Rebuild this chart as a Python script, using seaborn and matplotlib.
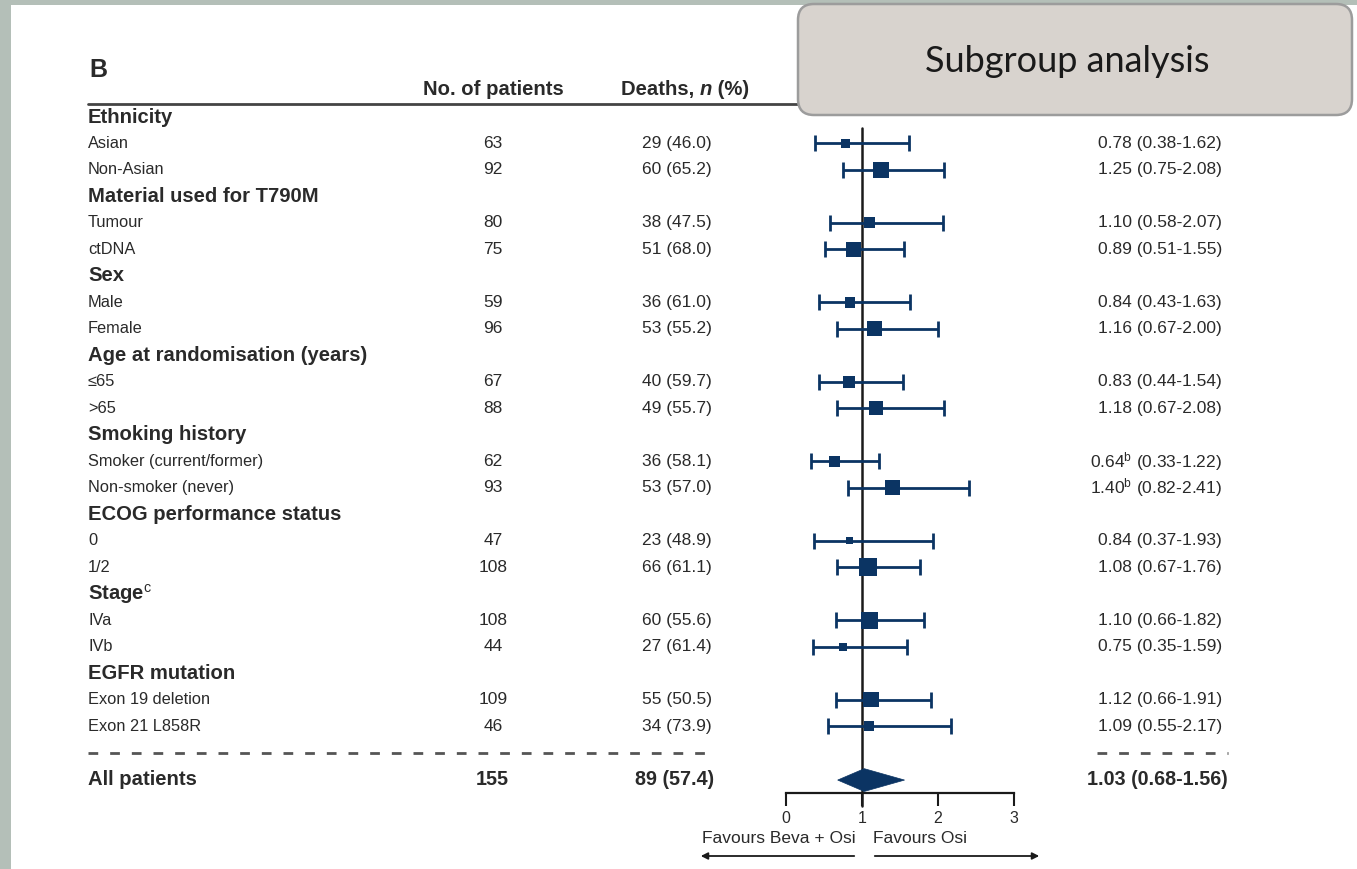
import numpy as np
import pandas as pd
import matplotlib
matplotlib.use("Agg")
import matplotlib.pyplot as plt
import seaborn as sns
from matplotlib.patches import FancyBboxPatch, Rectangle, Polygon
from matplotlib import font_manager

# ---------------- data ----------------
groups = ["Ethnicity", "Material used for T790M", "Sex", "Age at randomisation (years)",
          "Smoking history", "ECOG performance status", "Stage", "EGFR mutation"]
group_sup = ["", "", "", "", "", "", "c", ""]
subgroups = [["Asian", "Non-Asian"], ["Tumour", "ctDNA"], ["Male", "Female"],
             ["≤65", ">65"], ["Smoker (current/former)", "Non-smoker (never)"],
             ["0", "1/2"], ["IVa", "IVb"], ["Exon 19 deletion", "Exon 21 L858R"]]
n_patients = [63, 92, 80, 75, 59, 96, 67, 88, 62, 93, 47, 108, 108, 44, 109, 46]
deaths = [29, 60, 38, 51, 36, 53, 40, 49, 36, 53, 23, 66, 60, 27, 55, 34]
death_pct = [46.0, 65.2, 47.5, 68.0, 61.0, 55.2, 59.7, 55.7, 58.1, 57.0, 48.9, 61.1, 55.6, 61.4, 50.5, 73.9]
hr = [0.78, 1.25, 1.10, 0.89, 0.84, 1.16, 0.83, 1.18, 0.64, 1.40, 0.84, 1.08, 1.10, 0.75, 1.12, 1.09]
ci_low = [0.38, 0.75, 0.58, 0.51, 0.43, 0.67, 0.44, 0.67, 0.33, 0.82, 0.37, 0.67, 0.66, 0.35, 0.66, 0.55]
ci_high = [1.62, 2.08, 2.07, 1.55, 1.63, 2.00, 1.54, 2.08, 1.22, 2.41, 1.93, 1.76, 1.82, 1.59, 1.91, 2.17]
hr_note = ["", "", "", "", "", "", "", "", "b", "b", "", "", "", "", "", ""]
overall_label = "All patients"
overall_n = 155
overall_deaths = 89
overall_pct = 57.4
overall_hr = 1.03
overall_lo = 0.68
overall_hi = 1.56
x_ticks = [0, 1, 2, 3]
col_headers = ["No. of patients", "Deaths, ", "n", " (%)"]
panel_label = "B"
box_title = "Subgroup analysis"
favour_left = "Favours Beva + Osi"
favour_right = "Favours Osi"

# ---------------- style ----------------
sns.set_theme(style="white")
avail = {f.name for f in font_manager.fontManager.ttflist}
base = "Liberation Sans Narrow" if "Liberation Sans Narrow" in avail else "Liberation Sans"
plt.rcParams["font.family"] = [base, "DejaVu Sans"]
plt.rcParams["mathtext.fontset"] = "custom"
plt.rcParams["mathtext.rm"] = base
plt.rcParams["mathtext.it"] = base + ":italic"
plt.rcParams["mathtext.bf"] = base + ":bold"

TXT = "#2a2a2a"
NAVY = "#0b3463"
FS_LAB = 11.8     # subgroup labels
FS_NUM = 12.5     # numbers
FS_BOLD = 14.6    # bold group headers / column headers
FS_BNUM = 14.2    # bold overall numbers
W, H = 1357, 869
X0, XU = 786.0, 76.0          # pixel of HR=0, pixels per HR unit
Y0, YU = 117.0, 26.48         # pixel of row 0, pixels per row
ylim = ((H - Y0) / YU, -Y0 / YU)

def prow(py):
    return (py - Y0) / YU

fig = plt.figure(figsize=(W / 100, H / 100), dpi=100)
fig.patch.set_facecolor("#b4bfb8")

# background panel (pixel coords)
ax_bg = fig.add_axes([0, 0, 1, 1], zorder=0)
ax_bg.set_xlim(0, W); ax_bg.set_ylim(H, 0); ax_bg.axis("off")
ax_bg.add_patch(Rectangle((11, 5), W - 11, H - 5, facecolor="white", edgecolor="none"))

# text layer (x pixels, y rows)
ax_t = fig.add_axes([0, 0, 1, 1], zorder=1)
ax_t.set_xlim(0, W); ax_t.set_ylim(*ylim); ax_t.axis("off"); ax_t.patch.set_alpha(0)

# forest layer
ax_f = fig.add_axes([X0 / W, 0, 3 * XU / W, 1], zorder=2)
ax_f.patch.set_alpha(0)
ax_f.set_xlim(0, 3); ax_f.set_ylim(*ylim)

# ---------------- build rows ----------------
recs = []
r = 0
k = 0
for g, sup, subs in zip(groups, group_sup, subgroups):
    lab = g + (r"$^{\mathrm{%s}}$" % sup if sup else "")
    ax_t.text(88, r, lab, ha="left", va="center", fontsize=FS_BOLD, fontweight="bold", color=TXT)
    r += 1
    for s in subs:
        recs.append(dict(row=r, label=s, n=n_patients[k], d=deaths[k], pct=death_pct[k],
                         hr=hr[k], lo=ci_low[k], hi=ci_high[k], note=hr_note[k]))
        r += 1
        k += 1
df = pd.DataFrame(recs)

for _, rw in df.iterrows():
    ax_t.text(88, rw.row, rw.label, ha="left", va="center", fontsize=FS_LAB, color=TXT)
    ax_t.text(493, rw.row, f"{rw.n}", ha="center", va="center", fontsize=FS_NUM, color=TXT)
    ax_t.text(712, rw.row, f"{rw.d} ({rw.pct:.1f})", ha="right", va="center", fontsize=FS_NUM, color=TXT)
    note = r"$^{\mathrm{%s}}$" % rw.note if rw.note else ""
    ax_t.text(1222, rw.row, f"{rw.hr:.2f}{note} ({rw.lo:.2f}-{rw.hi:.2f})",
              ha="right", va="center", fontsize=FS_NUM, color=TXT)

dash_row = r
all_row = r + 1
ax_t.text(88, all_row, overall_label, ha="left", va="center", fontsize=FS_BOLD, fontweight="bold", color=TXT)
ax_t.text(492, all_row, f"{overall_n}", ha="center", va="center", fontsize=FS_BNUM, fontweight="bold", color=TXT)
ax_t.text(714, all_row, f"{overall_deaths} ({overall_pct:.1f})", ha="right", va="center",
          fontsize=FS_BNUM, fontweight="bold", color=TXT)
ax_t.text(1228, all_row, f"{overall_hr:.2f} ({overall_lo:.2f}-{overall_hi:.2f})", ha="right",
          va="center", fontsize=FS_BNUM, fontweight="bold", color=TXT)

# dashed separators
ax_t.plot([88, 716], [dash_row, dash_row], color="#555555", lw=2, ls=(0, (3.5, 4.3)))
ax_t.plot([1097, 1228], [dash_row, dash_row], color="#555555", lw=2, ls=(0, (3.5, 4.3)))

# headers
ax_t.text(89, prow(70), panel_label, ha="left", va="center", fontsize=18, fontweight="bold", color=TXT)
ax_t.text(493, prow(89), col_headers[0], ha="center", va="center", fontsize=FS_BOLD, fontweight="bold", color=TXT)
t1 = ax_t.text(621, prow(89), col_headers[1], ha="left", va="center", fontsize=FS_BOLD, fontweight="bold", color=TXT)
fig.canvas.draw()
rend = fig.canvas.get_renderer()
bb = t1.get_window_extent(rend)
x_after = ax_t.transData.inverted().transform((bb.x1, 0))[0]
t2 = ax_t.text(x_after, prow(89), col_headers[2], ha="left", va="center", fontsize=FS_BOLD,
               fontweight="bold", fontstyle="italic", color=TXT)
bb2 = t2.get_window_extent(rend)
x_after2 = ax_t.transData.inverted().transform((bb2.x1, 0))[0]
ax_t.text(x_after2, prow(89), col_headers[3], ha="left", va="center", fontsize=FS_BOLD, fontweight="bold", color=TXT)
ax_t.plot([88, 1228], [prow(104), prow(104)], color="#444444", lw=2)

# ---------------- forest ----------------
ax_f.plot([1, 1], [prow(128), prow(806)], color="#1a1a1a", lw=1.8, zorder=1, clip_on=False)
ax_f.errorbar(df["hr"], df["row"], xerr=[df["hr"] - df["lo"], df["hi"] - df["hr"]], fmt="none",
              ecolor=NAVY, elinewidth=2, capsize=6, capthick=2, zorder=2, clip_on=False)
side_px = 1.0 + df["d"] * 0.265
sns.scatterplot(x=df["hr"], y=df["row"], marker="s", s=(side_px / (100 / 72)) ** 2,
                color=NAVY, linewidth=0, ax=ax_f, zorder=3, clip_on=False, legend=False)
ax_f.add_patch(Polygon([(overall_lo, all_row + 0.04), (overall_hr, all_row - 0.39),
                        (overall_hi, all_row + 0.04), (overall_hr, all_row + 0.47)],
                       closed=True, facecolor=NAVY, edgecolor=NAVY, lw=0.5, zorder=3))

for sp in ["left", "right", "top"]:
    ax_f.spines[sp].set_visible(False)
ax_f.spines["bottom"].set_position(("data", prow(793)))
ax_f.spines["bottom"].set_color("#1a1a1a")
ax_f.spines["bottom"].set_linewidth(1.6)
ax_f.set_xticks(x_ticks)
ax_f.set_xticklabels([str(t) for t in x_ticks])
ax_f.tick_params(axis="x", direction="out", length=9.5, width=1.5, color="#1a1a1a",
                 pad=3.5, labelsize=11.5, labelcolor=TXT, bottom=True)
ax_f.set_yticks([])
ax_f.set_xlabel(""); ax_f.set_ylabel("")

def hx(px):
    return (px - X0) / XU

ax_f.text(hx(856), prow(838), favour_left, ha="right", va="center", fontsize=FS_NUM, color=TXT, clip_on=False)
ax_f.text(hx(873), prow(838), favour_right, ha="left", va="center", fontsize=FS_NUM, color=TXT, clip_on=False)
ax_f.annotate("", xy=(hx(698), prow(856)), xytext=(hx(857), prow(856)),
              arrowprops=dict(arrowstyle="-|>", color="#1a1a1a", lw=1.3, mutation_scale=10),
              annotation_clip=False)
ax_f.annotate("", xy=(hx(1042), prow(856)), xytext=(hx(872), prow(856)),
              arrowprops=dict(arrowstyle="-|>", color="#1a1a1a", lw=1.3, mutation_scale=10),
              annotation_clip=False)

# ---------------- title box ----------------
ax_o = fig.add_axes([0, 0, 1, 1], zorder=4)
ax_o.set_xlim(0, W); ax_o.set_ylim(H, 0); ax_o.axis("off"); ax_o.patch.set_alpha(0)
ax_o.add_patch(FancyBboxPatch((798, 4), 554, 111, boxstyle="round,pad=0,rounding_size=16",
                              facecolor="#d8d3ce", edgecolor="#9c9c9c", lw=1.8))
ax_o.text(1067, 62, box_title, ha="center", va="center", fontsize=26, color="#1a1a1a",
          family=["Lato", "DejaVu Sans"])

fig.savefig("out.png", dpi=100, facecolor=fig.get_facecolor())
